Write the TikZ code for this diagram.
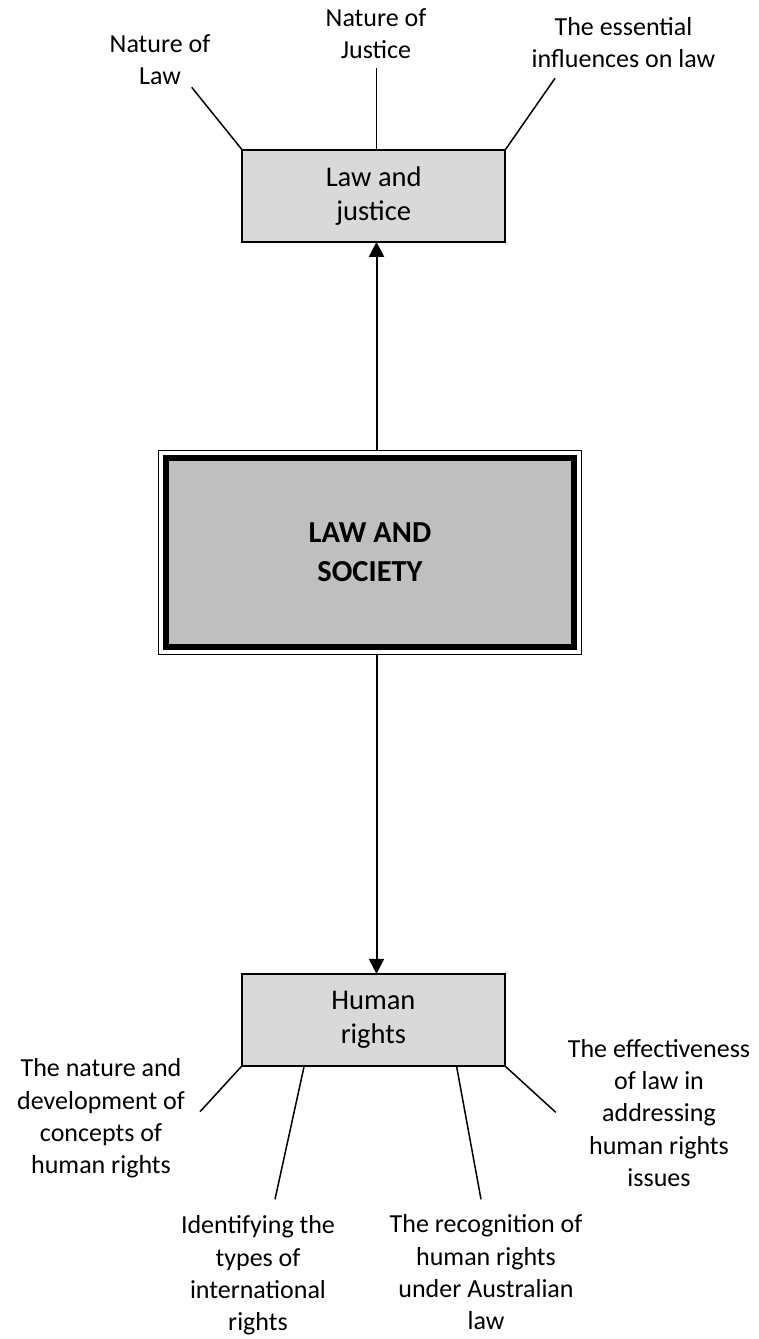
\documentclass[tikz,border=0pt]{standalone}
\usepackage{fontspec}
\setmainfont{Carlito}
\usetikzlibrary{arrows.meta,fit}
\definecolor{boxgray}{HTML}{D9D9D9}
\definecolor{coregray}{HTML}{BFBFBF}
\begin{document}
\begin{tikzpicture}[x=1pt,y=-1pt,
  leaf/.style={align=center,inner sep=0pt,font=\fontsize{26}{32.3}\selectfont},
  topicbox/.style={draw,line width=1.6pt,fill=boxgray,outer sep=0pt,
    minimum width=263pt,minimum height=92pt,align=center,
    font=\fontsize{28.5}{34.5}\selectfont},
  corebox/.style={draw,line width=6.5pt,fill=coregray,outer sep=0pt,
    minimum width=408pt,minimum height=189pt,align=center,
    font=\bfseries\fontsize{30.5}{38.6}\selectfont},
  outerframe/.style={draw,line width=1.3pt,inner sep=7.5pt,outer sep=0pt},
  link/.style={line width=1.5pt},
  arr/.style={line width=2pt,-{Triangle[width=15pt,length=15pt]}}
]
\fill[white] (0,0) rectangle (758,1339);
\useasboundingbox (0,0) rectangle (758,1339);
\coordinate (axis) at (376.5,0);

% topic boxes and the central box
\node[topicbox] (lj) at (373.7,195.9) {Law and\\justice};
\node[corebox] (core) at (370,552.4) {LAW AND\\SOCIETY};
\node[outerframe,fit=(core)] (frame) {};
\node[topicbox] (hr) at (373.4,1019.9) {Human\\rights};

% sub-topics of law and justice
\node[leaf] (natlaw) at (160,59.7) {Nature of\\Law};
\node[leaf] (natjus) at (376,33.8) {Nature of\\Justice};
\node[leaf] (essinf) at (623.5,42.7) {The essential\\influences on law};

% sub-topics of human rights
\node[leaf] (hrdev) at (101,1118.5) {The nature and\\development of\\concepts of\\human rights};
\node[leaf] (hrintl) at (258,1275.5) {Identifying the\\types of\\international\\rights};
\node[leaf] (hraus) at (486,1272.5) {The recognition of\\human rights\\under Australian\\law};
\node[leaf] (hreff) at (659,1113) {The effectiveness\\of law in\\addressing\\human rights\\issues};

% free ends of the sub-topic lines
\coordinate (natlaw-end) at (191.7,87.3);
\coordinate (natjus-end) at (376.3,68.3);
\coordinate (essinf-end) at (555,78.3);
\coordinate (hrdev-end) at (200,1111.7);
\coordinate (hrintl-end) at (275,1199.3);
\coordinate (hraus-end) at (481,1199.3);
\coordinate (hreff-end) at (555.7,1112.3);

% lines to the sub-topics
\draw[link] (natlaw-end) -- (lj.north west);
\draw[link] (natjus-end) -- (natjus-end |- lj.north);
\draw[link] (essinf-end) -- (lj.north east);
\draw[link] (hr.south west) -- (hrdev-end);
\draw[link] ([xshift=62.3pt]hr.south west) -- (hrintl-end);
\draw[link] ([xshift=-48.4pt]hr.south east) -- (hraus-end);
\draw[link] (hr.south east) -- (hreff-end);

% arrows from the central box
\draw[arr] (frame.north -| axis) -- (lj.south -| axis);
\draw[arr] (frame.south -| axis) -- (hr.north -| axis);
\end{tikzpicture}
\end{document}
